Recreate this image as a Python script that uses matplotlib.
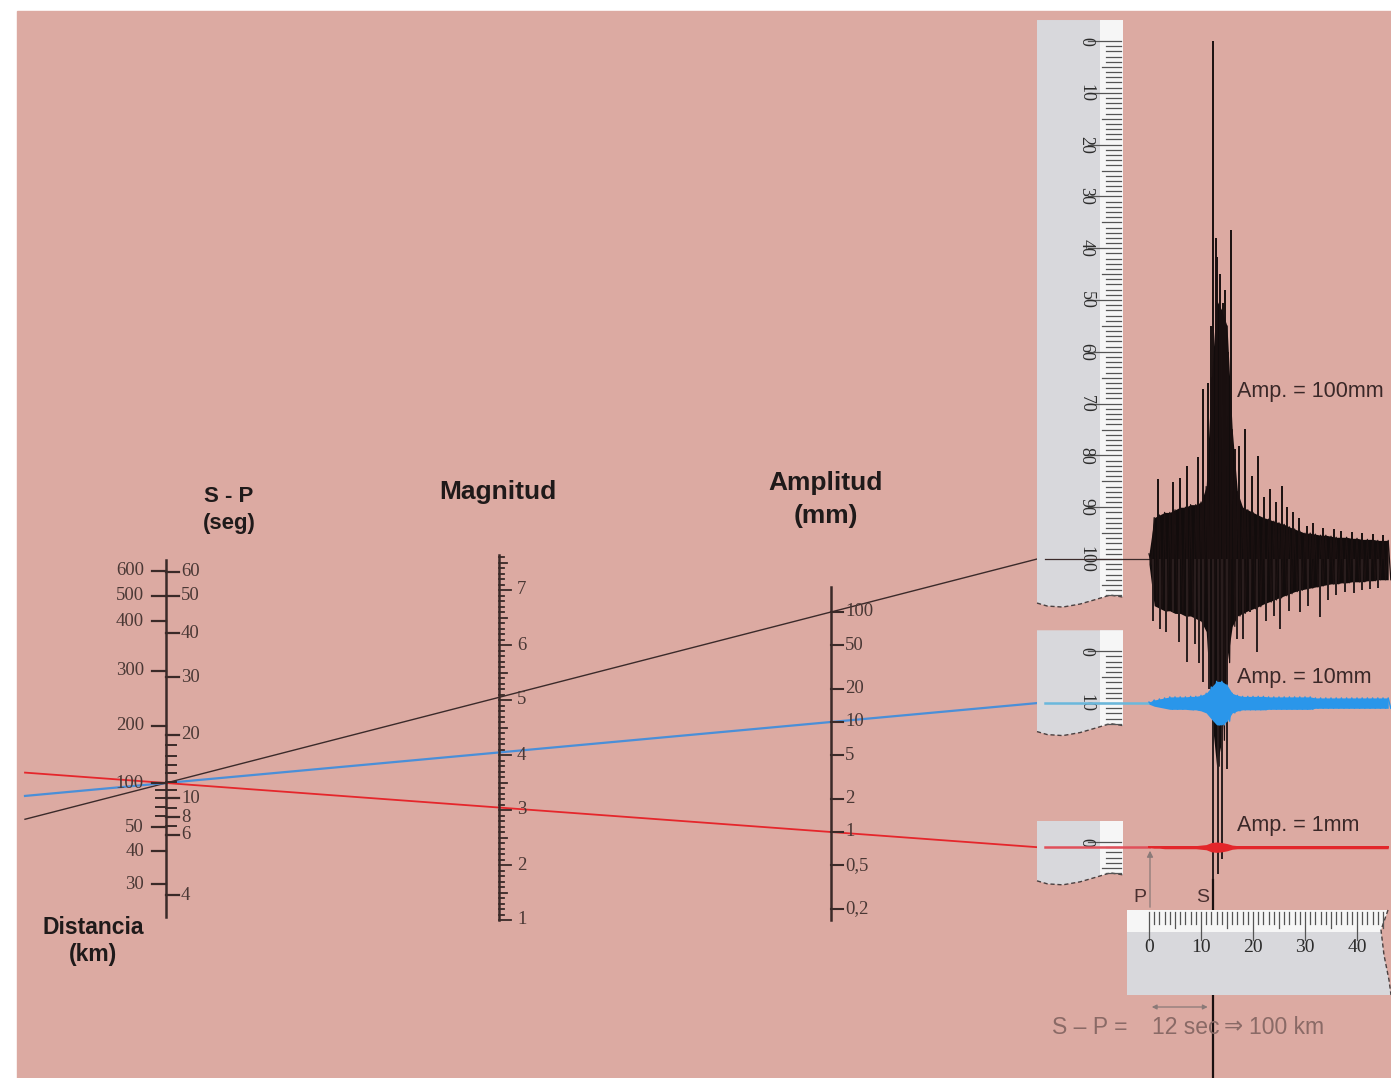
import numpy as np
import matplotlib.pyplot as plt
from matplotlib.patches import Rectangle, Polygon, FancyArrowPatch

# ---- nomogram scales ----
dist_km = [600, 500, 400, 300, 200, 100, 50, 40, 30]
dist_corr = [4.93, 4.70, 4.47, 4.02, 3.52, 3.00, 2.60, 2.38, 2.08]   # -log A0
dist_minor_corr = [2.94, 2.86, 2.78, 2.70]                            # 90, 80, 70, 60 km
sp_sec = [60, 50, 40, 30, 20, 10, 8, 6, 4]
sp_corr = [4.92, 4.70, 4.36, 3.96, 3.44, 2.86, 2.69, 2.53, 1.98]
sp_minor_corr = [3.35, 3.25, 3.16, 3.09, 3.01, 2.94, 2.77, 2.61]
mag_labels = [1, 2, 3, 4, 5, 6, 7]
mag_top = 7.6
amp_values = [100, 50, 20, 10, 5, 2, 1, 0.5, 0.2]
amp_labels = ['100', '50', '20', '10', '5', '2', '1', '0,5', '0,2']

# worked example: 100 km (S-P = 12 s), three amplitudes
ex_corr = 3.0
ex_amp = [100, 10, 1]
ex_text = ['Amp. = 100mm', 'Amp. = 10mm', 'Amp. = 1mm']
ruler_max_mm = [107, 14, 6]
ruler_labels = [[0, 10, 20, 30, 40, 50, 60, 70, 80, 90, 100], [0, 10], [0]]

# ---- seismograms: time (s) after P, amplitudes in mm ----
s_time = 12.4
t_env = list(range(47))
black_up = [1.0, 8.0, 8.5, 9.0, 9.0, 9.5, 10.0, 10.0, 10.5, 10.5, 11.0, 14.0, 35, 50, 48, 45,
            25, 13, 10, 9.5, 9.0, 8.5, 8.0, 7.7, 7.3, 7.0, 6.7, 6.2, 5.8, 5.4, 5.0,
            5.0, 4.8, 4.6, 4.6, 4.4, 4.2, 4.2, 4.2, 4.0, 4.0, 3.8, 3.8, 3.8, 3.6, 3.6, 3.6]
black_down = [1.0, 9.0, 9.5, 10.0, 10.0, 10.5, 10.5, 11.0, 11.0, 11.5, 12.0, 14.0, 30, 40, 35, 20,
              13, 11, 10.5, 10.0, 9.6, 9.2, 8.7, 8.3, 7.9, 7.5, 7.1, 6.7, 6.3, 6.0, 5.8,
              5.6, 5.4, 5.2, 5.0, 4.8, 4.8, 4.6, 4.6, 4.4, 4.4, 4.4, 4.2, 4.2, 4.0, 4.0, 4.0]
spike_up_t = [1.7, 4.6, 6.0, 7.3, 9.4, 10.4, 11.3, 12.0, 12.4, 12.8, 13.1, 13.6, 14.2, 14.6,
              15.2, 15.8, 16.5, 17.3, 18.5, 19.8, 21.0, 22.2, 23.3, 24.4, 25.6, 26.6, 27.7,
              28.8, 30.4, 31.5, 33.5, 35.5, 37.0, 39.0, 41.0, 43.0, 45.0]
spike_up = [15.4, 14.9, 15.6, 18.0, 19.7, 32.8, 34.0, 45, 100, 62, 58.3, 55, 49.4, 52,
            40, 63.5, 21.2, 21.8, 25.1, 16, 19.9, 12, 13.5, 11, 14.1, 10, 9.1,
            8, 6.4, 7, 6.0, 5.8, 5.4, 5.2, 5.0, 4.8, 4.6]
spike_dn_t = [0.8, 2.1, 3.2, 4.6, 5.8, 7.3, 8.8, 9.6, 10.4, 11.5, 12.4, 13.3, 14.0, 15.0,
              16.9, 18.1, 19.4, 20.8, 22.5, 24.0, 25.2, 27.0, 29.0, 30.5, 32.9, 34.5,
              36.0, 37.7, 39.5, 41.0, 42.5, 44.0]
spike_dn = [12, 13.5, 14, 10.2, 16, 19.9, 16.4, 20, 23.7, 25, 61.8, 60.8, 57.9, 40.5,
            15.4, 15.4, 10.2, 18.0, 12, 11, 13.5, 10, 10.2, 9, 11.2, 8,
            7, 6.4, 6.5, 6, 5.8, 5.5]
blue_env = [0.2, 0.6, 0.8, 1.0, 1.2, 1.2, 1.2, 1.2, 1.3, 1.3, 1.5, 1.9, 3.1, 4.2, 4.2, 3.5,
            1.9, 1.5, 1.3, 1.3, 1.3, 1.3, 1.3, 1.2, 1.2, 1.2, 1.2, 1.2, 1.2, 1.2, 1.2, 1.2,
            1.0, 1.0, 1.0, 1.0, 1.0, 1.0, 1.0, 1.0, 1.0, 1.0, 1.0, 1.0, 1.0, 1.0, 1.0]
red_env = [0.1, 0.2, 0.2, 0.3, 0.3, 0.3, 0.3, 0.3, 0.3, 0.3, 0.4, 0.5, 0.9, 1.0, 0.9, 0.7,
           0.4, 0.3, 0.3, 0.3, 0.3, 0.3, 0.3, 0.3, 0.3, 0.3, 0.3, 0.3, 0.3, 0.3, 0.3, 0.3,
           0.3, 0.3, 0.3, 0.3, 0.3, 0.3, 0.3, 0.3, 0.3, 0.3, 0.3, 0.3, 0.3, 0.3, 0.3]
time_labels = [0, 10, 20, 30, 40]

# ---- layout (pixel canvas) ----
W, H = 1391, 1078
BG = '#dcaaa2'
X_D, X_M, X_A = 166, 499, 831
PX_MM = 5.18
PX_S = 5.2
T0_X = 1149
RL, RR, RS = 1037, 1123, 1100  # vertical rulers: left, right, white strip start
LABEL_C = '#4a3835'


def y_dist(c):
    return 1113 - 110 * np.asarray(c, float)


def y_mag(m):
    return 975 - 55 * np.asarray(m, float)


def y_amp(a):
    return 832 - 110 * np.log10(np.asarray(a, float))


def x_time(t):
    return T0_X + PX_S * np.asarray(t, float)


fig = plt.figure(figsize=(W / 100, H / 100), dpi=100)
fig.patch.set_facecolor('white')
ax = fig.add_axes([0, 0, 1, 1])
ax.set_xlim(0, W)
ax.set_ylim(H, 0)
ax.axis('off')
ax.add_patch(Rectangle((17, 11), W - 17, H - 11, color=BG, zorder=0))

serif = 'Liberation Serif'
sans = ['Liberation Sans', 'DejaVu Sans']

# ---- nomogram lines ----
line_colors = ['#3b2a2a', '#4a8fd8', '#e5262b']
line_widths = [1.0, 1.6, 1.3]
y0 = float(y_dist(ex_corr))
baselines = []
for a, col, lw in zip(ex_amp, line_colors, line_widths):
    y1 = float(y_amp(a))
    k = (y1 - y0) / (X_A - X_D)
    xs = np.array([25, RL])
    ax.plot(xs, y0 + k * (xs - X_D), color=col, lw=lw, zorder=2)
    baselines.append(y0 + k * (RL - X_D))

# ---- distance / S-P scale ----
ax.plot([X_D, X_D], [560, 917], color='#3a2a28', lw=1.8, zorder=3)
for v, c in zip(dist_km, dist_corr):
    y = float(y_dist(c))
    ax.plot([X_D - 14, X_D], [y, y], color='#3a2a28', lw=1.6, zorder=3)
    ax.text(X_D - 22, y, str(v), ha='right', va='center', fontsize=13.5,
            family=serif, color=LABEL_C, zorder=3)
for c in dist_minor_corr:
    y = float(y_dist(c))
    ax.plot([X_D - 10, X_D], [y, y], color='#3a2a28', lw=1.4, zorder=3)
for v, c in zip(sp_sec, sp_corr):
    y = float(y_dist(c))
    ax.plot([X_D, X_D + 13], [y, y], color='#3a2a28', lw=1.6, zorder=3)
    ax.text(X_D + 15, y, str(v), ha='left', va='center', fontsize=13.5,
            family=serif, color=LABEL_C, zorder=3)
for c in sp_minor_corr:
    y = float(y_dist(c))
    ax.plot([X_D, X_D + 10], [y, y], color='#3a2a28', lw=1.4, zorder=3)

# ---- magnitude scale ----
ax.plot([X_M, X_M], [float(y_mag(mag_top)) - 2, float(y_mag(1.0))], color='#3a2a28', lw=1.8, zorder=3)
for i in range(10, int(mag_top * 10) + 1):
    m = i / 10
    y = float(y_mag(m))
    ln = 12 if i % 10 == 0 else (8 if i % 5 == 0 else 5)
    ax.plot([X_M, X_M + ln], [y, y], color='#3a2a28', lw=1.3, zorder=3)
for m in mag_labels:
    ax.text(X_M + 18, float(y_mag(m)), str(m), ha='left', va='center', fontsize=13.5,
            family=serif, color=LABEL_C, zorder=3)

# ---- amplitude scale ----
ax.plot([X_A, X_A], [float(y_amp(170)), float(y_amp(0.16))], color='#3a2a28', lw=1.8, zorder=3)
for a, lab in zip(amp_values, amp_labels):
    y = float(y_amp(a))
    ax.plot([X_A, X_A + 12], [y, y], color='#3a2a28', lw=1.5, zorder=3)
    ax.text(X_A + 14, y, lab, ha='left', va='center', fontsize=13.5,
            family=serif, color=LABEL_C, zorder=3)

# ---- scale titles ----
tkw = dict(ha='center', va='center', family=sans, weight='bold', color='#1f1a1a', zorder=3)
ax.text(229, 496, 'S - P', fontsize=16, **tkw)
ax.text(229, 523, '(seg)', fontsize=16, **tkw)
ax.text(498, 492, 'Magnitud', fontsize=19, **tkw)
ax.text(826, 483, 'Amplitud', fontsize=19, **tkw)
ax.text(826, 516, '(mm)', fontsize=19, **tkw)
ax.text(93, 927, 'Distancia', fontsize=16.5, **tkw)
ax.text(93, 955, '(km)', fontsize=16.5, **tkw)

# ---- vertical amplitude rulers ----
wave_x = np.array([0, 0.12, 0.3, 0.5, 0.7, 0.85, 1.0])
wave_dy = np.array([0, 3, 4, 1, -4, -8, -6])
for amp, base, nmax, labs in zip(ex_amp, baselines, ruler_max_mm, ruler_labels):
    zero = base - amp * PX_MM
    top = zero - 21
    bot = zero + (nmax + 1.5) * PX_MM
    wx = RL + (RR - RL) * wave_x
    wy = bot + wave_dy
    pts = [(RL, top), (RR, top)] + list(zip(wx[::-1], wy[::-1]))
    body = Polygon(pts, closed=True, facecolor='#d8d8dc', edgecolor='none', zorder=4)
    ax.add_patch(body)
    strip = Rectangle((RS, top), RR - RS, bot - top + 12, facecolor='#f6f6f6',
                      edgecolor='none', zorder=4)
    ax.add_patch(strip)
    strip.set_clip_path(body)
    ax.plot(wx, wy, color='#4a4040', lw=1.0, ls=(0, (3, 2)), zorder=5)
    for mm in range(0, nmax + 1):
        y = zero + mm * PX_MM
        if mm % 10 == 0:
            x1 = RS - 12
        elif mm % 5 == 0:
            x1 = RS + 2
        else:
            x1 = RS + 6
        ax.plot([x1, RR - 2], [y, y], color='#555', lw=0.9, zorder=5)
    for v in labs:
        ax.text(1086, zero + v * PX_MM, str(v), rotation=-90, ha='center', va='center',
                fontsize=13, family=serif, color='#2c2c2c', zorder=6)

# baselines crossing the rulers
cross_cols = ['#3b2a2a', '#6ab8dc', '#e0505a']
cross_lw = [0.9, 1.8, 1.8]
for base, col, lw in zip(baselines, cross_cols, cross_lw):
    ax.plot([RL + 8, T0_X], [base, base], color=col, lw=lw, zorder=6)

# ---- seismograms ----
te = np.array(t_env, float)
xe = x_time(te)
xz = x_time(np.ravel(np.column_stack([te, te + 0.5])))

b = baselines[0]
up = np.array(black_up) * PX_MM
dn = np.array(black_down) * PX_MM
ax.fill_between(xe, b - up, b + dn, color='#120c0c', lw=0, zorder=7)
ax.plot(xz, np.ravel(np.column_stack([b - up, b + dn])), color='#1a1010', lw=0.9, zorder=7)
ax.vlines(x_time(spike_up_t), b - np.array(spike_up) * PX_MM, b, color='#1a1010', lw=1.4, zorder=7)
ax.vlines(x_time(spike_dn_t), b, b + np.array(spike_dn) * PX_MM, color='#2a1e1e', lw=1.4, zorder=7)

bb = baselines[1]
be = np.array(blue_env) * PX_MM
ax.fill_between(xe, bb - be, bb + be, color='#2a96ea', lw=0, zorder=8)
ax.plot(xz, np.ravel(np.column_stack([bb - be, bb + be])), color='#2a96ea', lw=1.0, zorder=8)

rb = baselines[2]
re_ = np.array(red_env) * PX_MM
ax.fill_between(xe, rb - re_, rb + re_, color='#e3262a', lw=0, zorder=8)
ax.plot(xe, np.full_like(xe, rb), color='#e3262a', lw=1.4, zorder=8)

label_y = [392, 677, 825]
for ly, txt in zip(label_y, ex_text):
    ax.text(1237, ly, txt, ha='left', va='center', fontsize=15.5, family=sans,
            color='#3a2828', zorder=9)

# ---- P and S marks ----
xs_line = float(x_time(s_time))
ax.plot([xs_line, xs_line], [880, H], color='#1a1010', lw=1.6, zorder=5)
ax.add_patch(FancyArrowPatch((T0_X + 1, 910), (T0_X + 1, 848), arrowstyle='-|>',
                             mutation_scale=9, color='#8a7a78', lw=0.9, zorder=6))
ax.text(T0_X - 9, 897, 'P', fontsize=14, family=sans, color='#4a3030', ha='center', va='center', zorder=6)
ax.text(xs_line - 11, 897, 'S', fontsize=14, family=sans, color='#4a3030', ha='center', va='center', zorder=6)

# ---- horizontal time ruler ----
hl, ht, hb = 1127, 910, 995
edge_y = np.array([ht, ht + 20, ht + 45, ht + 70, hb])
edge_x = np.array([1388, 1381, 1384, 1389, 1391])
hpts = [(hl, ht)] + list(zip(edge_x, edge_y)) + [(hl, hb)]
hbody = Polygon(hpts, closed=True, facecolor='#d8d8dc', edgecolor='none', zorder=10)
ax.add_patch(hbody)
hstrip = Rectangle((hl, ht), W - hl, 22, facecolor='#f6f6f6', edgecolor='none', zorder=10)
ax.add_patch(hstrip)
hstrip.set_clip_path(hbody)
ax.plot(edge_x, edge_y, color='#4a4040', lw=1.0, ls=(0, (3, 2)), zorder=11)
for s in range(0, 46):
    x = float(x_time(s))
    ln = 28 if s % 10 == 0 else (16 if s % 5 == 0 else 12)
    ax.plot([x, x], [ht + 2, ht + 2 + ln], color='#555', lw=0.9, zorder=11)
for s in time_labels:
    ax.text(float(x_time(s)), 948, str(s), ha='center', va='center', fontsize=14,
            family=serif, color='#2c2c2c', zorder=12)

# ---- S - P annotation ----
ax.add_patch(FancyArrowPatch((T0_X, 1007), (xs_line - 3, 1007), arrowstyle='<|-|>',
                             mutation_scale=7, color='#8a7a78', lw=0.9, zorder=6))
akw = dict(fontsize=16.5, family=sans, color='#8a6a66', va='center', zorder=6)
ax.text(1052, 1027, 'S – P =', ha='left', **akw)
ax.text(1152, 1027, '12 sec', ha='left', **akw)
ax.text(1224, 1027, '⇒', ha='left', **akw)
ax.text(1249, 1027, '100 km', ha='left', **akw)

fig.savefig('out.png', dpi=100, facecolor='white')
